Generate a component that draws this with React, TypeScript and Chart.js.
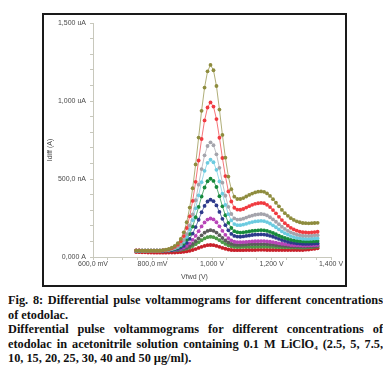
import React, { useEffect, useRef } from "react";
import { Chart, registerables } from "chart.js";

Chart.register(...registerables);

// Forward potential (mV)
const potentials = [
  745, 755, 765, 775, 785, 795, 805, 815, 825, 835, 845, 855, 865, 875, 885, 895,
  905, 915, 925, 935, 945, 955, 965, 975, 985, 995, 1005, 1015, 1025, 1035, 1045,
  1055, 1065, 1075, 1085, 1095, 1105, 1115, 1125, 1135, 1145, 1155, 1165, 1175,
  1185, 1195, 1205, 1215, 1225, 1235, 1245, 1255, 1265, 1275, 1285, 1295, 1305,
  1315, 1325, 1335, 1345, 1355,
];

// Idiff (nA) for each concentration
const conc50 = [
  41, 41, 40, 40, 40, 40, 40, 40, 40, 44, 47, 52, 60, 72, 89, 116, 158, 223, 317,
  441, 594, 766, 938, 1087, 1191, 1232, 1198, 1097, 946, 783, 637, 516, 435, 387,
  372, 372, 378, 388, 398, 407, 414, 419, 421, 418, 408, 392, 371, 348, 325, 302,
  281, 264, 249, 238, 229, 223, 218, 217, 216, 217, 218, 219,
];
const conc40 = [
  42, 42, 41, 41, 41, 40, 40, 40, 40, 43, 46, 49, 56, 65, 79, 101, 134, 186, 261,
  360, 482, 619, 757, 876, 959, 992, 965, 885, 765, 635, 519, 421, 356, 316, 304,
  303, 308, 317, 326, 335, 341, 345, 347, 345, 335, 320, 301, 280, 258, 237, 217,
  201, 187, 177, 169, 163, 159, 158, 157, 158, 160, 162,
];
const conc30 = [
  41, 41, 40, 40, 40, 40, 40, 40, 40, 42, 44, 47, 52, 58, 69, 84, 109, 147, 202,
  274, 364, 464, 564, 652, 712, 736, 717, 659, 572, 477, 393, 322, 276, 248, 240,
  241, 246, 253, 260, 266, 271, 274, 276, 274, 267, 255, 241, 226, 210, 194, 180,
  168, 158, 150, 144, 140, 137, 136, 136, 137, 139, 140,
];
const conc25 = [
  40, 40, 40, 40, 40, 40, 40, 40, 40, 42, 43, 46, 50, 56, 64, 77, 98, 129, 176,
  236, 312, 396, 480, 553, 604, 624, 608, 559, 485, 406, 335, 275, 235, 211, 204,
  204, 208, 213, 219, 224, 228, 230, 232, 230, 224, 215, 203, 191, 177, 164, 153,
  143, 134, 128, 123, 120, 117, 116, 116, 117, 118, 119,
];
const conc20 = [
  40, 40, 40, 40, 40, 40, 40, 40, 40, 41, 43, 45, 48, 52, 59, 70, 86, 111, 147,
  195, 255, 321, 388, 446, 486, 502, 488, 449, 390, 325, 268, 219, 186, 166, 159,
  157, 158, 161, 164, 167, 169, 171, 172, 171, 167, 161, 154, 146, 137, 129, 122,
  116, 110, 106, 103, 101, 100, 99, 99, 100, 101, 102,
];
const conc15 = [
  40, 40, 40, 40, 40, 40, 40, 40, 40, 41, 42, 43, 45, 49, 53, 61, 72, 90, 116,
  150, 192, 239, 287, 328, 356, 368, 358, 331, 289, 245, 204, 171, 148, 135, 131,
  130, 132, 135, 138, 141, 143, 144, 145, 144, 141, 136, 130, 123, 116, 109, 103,
  98, 93, 90, 87, 86, 84, 84, 84, 85, 86, 87,
];
const conc10 = [
  40, 40, 40, 40, 40, 40, 40, 40, 40, 41, 41, 42, 44, 46, 49, 53, 61, 72, 88,
  110, 136, 166, 196, 222, 240, 247, 241, 223, 197, 168, 142, 121, 107, 98, 96,
  95, 96, 97, 99, 100, 101, 101, 102, 102, 100, 98, 95, 92, 88, 85, 82, 80, 77,
  76, 75, 74, 73, 73, 74, 75, 76, 77,
];
const conc7_5 = [
  40, 40, 40, 40, 40, 40, 40, 40, 40, 40, 41, 41, 42, 44, 46, 49, 53, 60, 71, 84,
  101, 120, 139, 156, 167, 172, 168, 157, 140, 122, 106, 93, 84, 79, 78, 78, 79,
  80, 81, 82, 82, 83, 83, 83, 82, 80, 79, 77, 75, 73, 71, 70, 68, 67, 67, 66, 66,
  66, 67, 68, 69, 70,
];
const conc5 = [
  40, 40, 40, 40, 40, 40, 40, 40, 40, 40, 41, 41, 42, 42, 44, 46, 49, 54, 61, 70,
  82, 95, 108, 119, 127, 130, 127, 119, 108, 95, 84, 75, 69, 65, 64, 64, 65, 65,
  65, 65, 65, 66, 66, 66, 66, 65, 65, 64, 63, 63, 62, 62, 61, 61, 61, 60, 60, 61,
  62, 63, 65, 66,
];
const conc2_5 = [
  32, 31, 30, 30, 29, 29, 28, 28, 28, 28, 28, 29, 29, 29, 30, 31, 33, 36, 40, 45,
  51, 58, 65, 71, 76, 77, 76, 71, 65, 58, 53, 48, 45, 44, 44, 44, 44, 45, 45, 45,
  45, 46, 46, 46, 45, 45, 45, 45, 45, 45, 45, 45, 45, 45, 45, 45, 45, 47, 48, 51,
  53, 56,
];

const seriesLabels = ["50", "40", "30", "25", "20", "15", "10", "7.5", "5", "2.5"];
const seriesValues = [conc50, conc40, conc30, conc25, conc20, conc15, conc10, conc7_5, conc5, conc2_5];
const seriesColors = [
  "#8e8c3e", "#f03a40", "#a4a4ac", "#6ccbe0", "#178a3c",
  "#2e3a8c", "#b845b8", "#5c5c5c", "#4e9a48", "#c8202a",
];

const yTickLabels: Record<number, string> = { 0: "0,000 A", 500: "500,0 nA", 1000: "1,000 uA", 1500: "1,500 uA" };
const xTickLabels: Record<number, string> = { 600: "600,0 mV", 800: "800,0 mV", 1000: "1,000 V", 1200: "1,200 V", 1400: "1,400 V" };

const xTitle = "Vfwd (V)";
const yTitle = "Idiff (A)";

function hexToRgba(hex: string, a: number) {
  const n = parseInt(hex.slice(1), 16);
  return `rgba(${(n >> 16) & 255},${(n >> 8) & 255},${n & 255},${a})`;
}

const axisColor = "#c8c8bc";
const textColor = "#4a4a4a";
const tickFont = { family: "'Liberation Sans', Arial, sans-serif", size: 7 };

function ChartBox() {
  const ref = useRef<HTMLCanvasElement | null>(null);
  useEffect(() => {
    if (!ref.current) return;
    const titlePlugin = {
      id: "titles",
      afterDraw(chart: any) {
        const ctx = chart.ctx;
        ctx.save();
        ctx.fillStyle = textColor;
        ctx.font = "7px 'Liberation Sans', Arial, sans-serif";
        ctx.textAlign = "center";
        ctx.textBaseline = "middle";
        ctx.fillText(xTitle, chart.width / 2, chart.height - 7.5);
        ctx.translate(6.5, chart.height / 2);
        ctx.rotate(-Math.PI / 2);
        ctx.fillText(yTitle, 0, 0);
        ctx.restore();
      },
    };
    const chart = new Chart(ref.current, {
      type: "line",
      data: {
        datasets: seriesValues.map((vals, k) => ({
          label: seriesLabels[k] + " µg/ml",
          data: potentials.map((p, i) => ({ x: p, y: vals[i] })),
          borderColor: hexToRgba(seriesColors[k], 0.7),
          backgroundColor: seriesColors[k],
          pointBackgroundColor: seriesColors[k],
          pointBorderWidth: 0,
          pointRadius: 1.9,
          borderWidth: 1,
          tension: 0,
          fill: false,
        })),
      },
      options: {
        animation: false,
        responsive: false,
        maintainAspectRatio: false,
        layout: { padding: { top: 7, right: 14, left: 0, bottom: 0 } },
        plugins: { legend: { display: false }, tooltip: { enabled: false } },
        scales: {
          x: {
            type: "linear",
            min: 600,
            max: 1400,
            ticks: {
              stepSize: 50,
              autoSkip: false,
              maxRotation: 0,
              padding: 0,
              color: textColor,
              font: tickFont,
              callback: (v: any) => xTickLabels[Number(v)] ?? "",
            },
            grid: { drawOnChartArea: false, drawTicks: true, tickLength: 3, color: axisColor },
            border: { display: true, color: axisColor, width: 1 },
            afterFit: (s: any) => { s.height = 28; },
          },
          y: {
            min: 0,
            max: 1500,
            ticks: {
              stepSize: 100,
              autoSkip: false,
              padding: 4,
              color: textColor,
              font: tickFont,
              callback: (v: any) => yTickLabels[Number(v)] ?? "",
            },
            grid: { drawOnChartArea: false, drawTicks: true, tickLength: 3, color: axisColor },
            border: { display: true, color: axisColor, width: 1 },
            afterFit: (s: any) => { s.width = 49; },
          },
        },
      },
      plugins: [titlePlugin],
    } as any);
    return () => chart.destroy();
  }, []);
  return <canvas ref={ref} width={301} height={270} style={{ display: "block" }} />;
}

const captionStyle: React.CSSProperties = {
  fontFamily: "'Liberation Serif', 'Times New Roman', serif",
  fontWeight: "bold",
  fontSize: "12.3px",
  lineHeight: "14.5px",
  color: "#111",
};
const full: React.CSSProperties = { textAlign: "justify", textAlignLast: "justify" };
const left: React.CSSProperties = { textAlign: "left", whiteSpace: "nowrap" };

export default function App() {
  return (
    <div style={{ position: "relative", width: 375, height: 366 }}>
      <div
        style={{
          position: "absolute",
          left: 34,
          top: 5,
          width: 305,
          height: 274,
          boxSizing: "border-box",
          border: "2px solid #1a1a1a",
          background: "#fff",
        }}
      >
        <ChartBox />
      </div>
      <div style={{ position: "absolute", left: 0, top: 285, width: 375, ...captionStyle }}>
        <div style={full}>Fig. 8: Differential pulse voltammograms for different concentrations</div>
        <div style={left}>of etodolac.</div>
        <div style={full}>Differential pulse voltammograms for different concentrations of</div>
        <div style={full}>
          etodolac in acetonitrile solution containing 0.1 M LiClO
          <sub style={{ fontSize: "7px", lineHeight: 0, verticalAlign: "-2px" }}>4</sub> (2.5, 5, 7.5,
        </div>
        <div style={left}>10, 15, 20, 25, 30, 40 and 50 µg/ml).</div>
      </div>
    </div>
  );
}
